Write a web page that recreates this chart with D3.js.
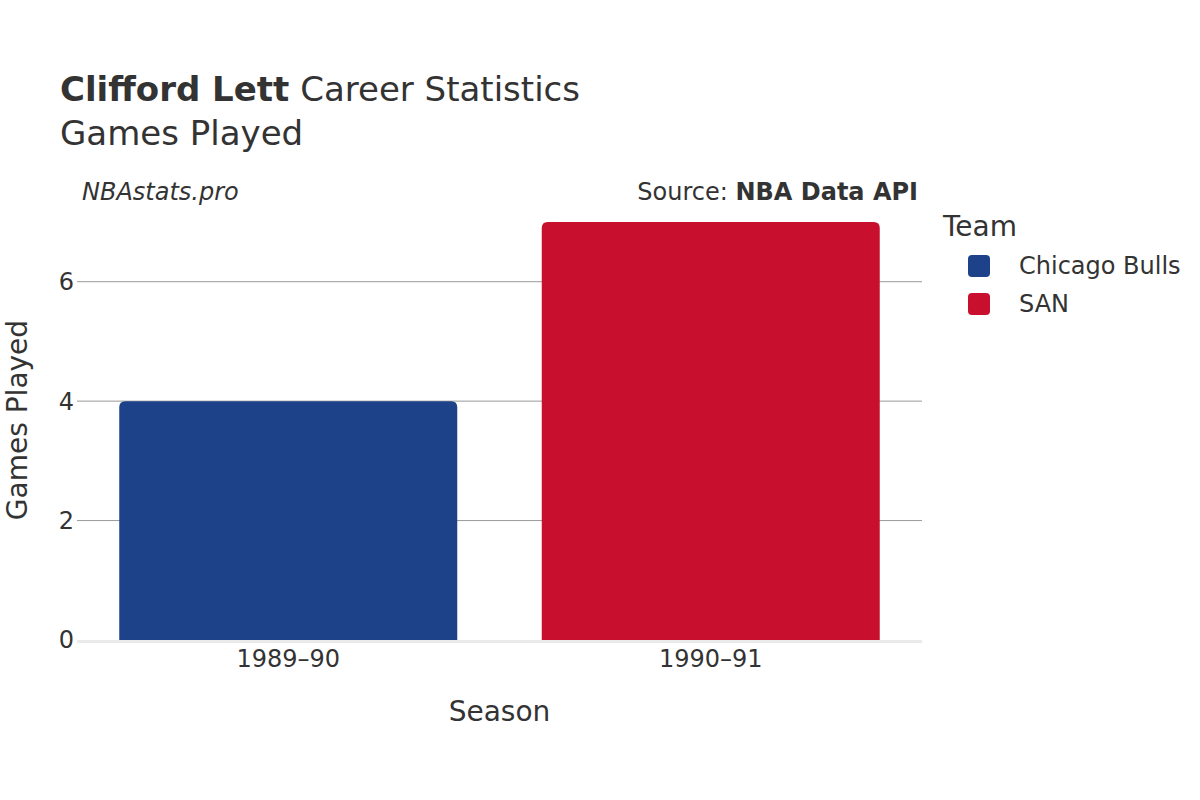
<!DOCTYPE html>
<html>
<head>
<meta charset="utf-8">
<script src="https://cdn.jsdelivr.net/npm/d3@7"></script>
<style>
  body { margin: 0; background: #fff; }
  svg text { font-family: "DejaVu Sans", sans-serif; fill: #333; }
</style>
</head>
<body>
<div id="chart"></div>
<script>
// chart values
var seasons = ["1989–90", "1990–91"];
var teams = ["Chicago Bulls", "SAN"];
var gamesPlayed = [4, 7];
var teamColors = ["#1d428a", "#c8102e"];
var yTicks = [0, 2, 4, 6];

var width = 1200, height = 800;
var margin = { top: 200, right: 278, bottom: 160, left: 77 };
var plotW = width - margin.left - margin.right,
    plotH = height - margin.top - margin.bottom;

var svg = d3.select("#chart")
    .append("svg")
    .attr("width", width)
    .attr("height", height);

var x = d3.scaleBand()
    .domain(seasons)
    .range([margin.left, margin.left + plotW])
    .paddingInner(0.2)
    .paddingOuter(0.1);

var y = d3.scaleLinear()
    .domain([0, d3.max(gamesPlayed) * 1.0526])
    .range([margin.top + plotH, margin.top]);

// grid lines
svg.append("g")
    .selectAll("line")
    .data(yTicks.filter(function (d) { return d > 0; }))
    .enter().append("line")
    .attr("x1", margin.left)
    .attr("x2", margin.left + plotW)
    .attr("y1", function (d) { return y(d); })
    .attr("y2", function (d) { return y(d); })
    .attr("stroke", "#999")
    .attr("stroke-width", 1);

// bars with rounded top corners
function barPath(x0, y0, w, h, r) {
    r = Math.min(r, h, w / 2);
    return "M" + x0 + "," + (y0 + h) +
        "V" + (y0 + r) +
        "Q" + x0 + "," + y0 + " " + (x0 + r) + "," + y0 +
        "H" + (x0 + w - r) +
        "Q" + (x0 + w) + "," + y0 + " " + (x0 + w) + "," + (y0 + r) +
        "V" + (y0 + h) + "Z";
}

svg.append("g")
    .selectAll("path")
    .data(seasons)
    .enter().append("path")
    .attr("d", function (d, i) {
        var top = y(gamesPlayed[i]);
        return barPath(x(d), top, x.bandwidth(), y(0) - top, 6);
    })
    .attr("fill", function (d, i) { return teamColors[i]; });

// zero line
svg.append("line")
    .attr("x1", margin.left)
    .attr("x2", margin.left + plotW)
    .attr("y1", y(0) + 1.5)
    .attr("y2", y(0) + 1.5)
    .attr("stroke", "#eaeaea")
    .attr("stroke-width", 3);

// y tick labels
svg.append("g")
    .selectAll("text")
    .data(yTicks)
    .enter().append("text")
    .attr("x", margin.left - 3)
    .attr("y", function (d) { return y(d); })
    .attr("dy", "0.35em")
    .attr("text-anchor", "end")
    .style("font-size", "24px")
    .text(function (d) { return d; });

// x tick labels
svg.append("g")
    .selectAll("text")
    .data(seasons)
    .enter().append("text")
    .attr("x", function (d) { return x(d) + x.bandwidth() / 2; })
    .attr("y", y(0) + 27)
    .attr("text-anchor", "middle")
    .style("font-size", "24px")
    .text(function (d) { return d; });

// axis titles
svg.append("text")
    .attr("x", margin.left + plotW / 2)
    .attr("y", 721)
    .attr("text-anchor", "middle")
    .style("font-size", "28px")
    .text("Season");

svg.append("text")
    .attr("transform", "translate(27," + (margin.top + plotH / 2) + ") rotate(-90)")
    .attr("text-anchor", "middle")
    .style("font-size", "28px")
    .text("Games Played");

// titles
var title = svg.append("text")
    .attr("x", 60)
    .attr("y", 101)
    .style("font-size", "34px");
title.append("tspan").style("font-weight", "bold").text("Clifford Lett");
title.append("tspan").text(" Career Statistics");

svg.append("text")
    .attr("x", 60)
    .attr("y", 145)
    .style("font-size", "34px")
    .text("Games Played");

svg.append("text")
    .attr("x", 82)
    .attr("y", 200)
    .style("font-size", "24px")
    .style("font-style", "italic")
    .text("NBAstats.pro");

var source = svg.append("text")
    .attr("x", 918)
    .attr("y", 200)
    .attr("text-anchor", "end")
    .style("font-size", "24px");
source.append("tspan").text("Source: ");
source.append("tspan").style("font-weight", "bold").text("NBA Data API");

// legend
svg.append("text")
    .attr("x", 943)
    .attr("y", 236)
    .style("font-size", "28px")
    .text("Team");

var legend = svg.selectAll("g.legend")
    .data(teams)
    .enter().append("g")
    .attr("class", "legend")
    .attr("transform", function (d, i) { return "translate(968," + (255 + i * 38) + ")"; });

legend.append("rect")
    .attr("width", 22)
    .attr("height", 22)
    .attr("rx", 4)
    .attr("fill", function (d, i) { return teamColors[i]; });

legend.append("text")
    .attr("x", 51)
    .attr("y", 11)
    .attr("dy", "0.35em")
    .style("font-size", "24px")
    .text(function (d) { return d; });
</script>
</body>
</html>
